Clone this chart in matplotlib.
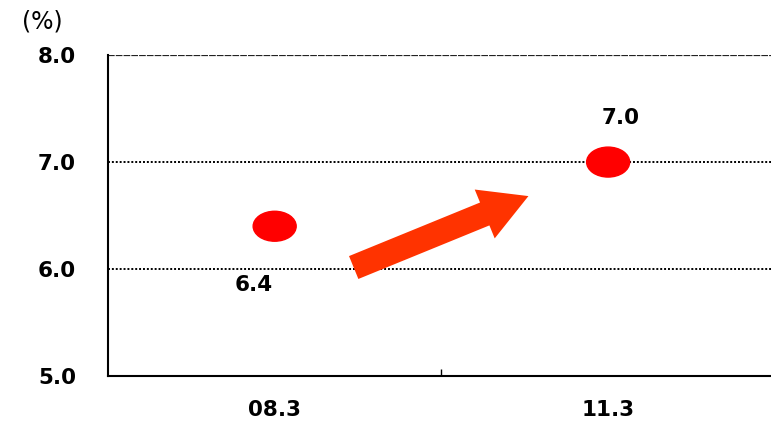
import matplotlib.pyplot as plt
from matplotlib.patches import Ellipse, FancyArrowPatch

# 기간별 수치 (%)
periods = ["08.3", "11.3"]
values = [6.4, 7.0]
y_ticks = [5.0, 6.0, 7.0, 8.0]

plt.rcParams["font.family"] = ["DejaVu Sans"]
FS = 15.5

fig = plt.figure(figsize=(7.71, 4.21), dpi=100)
ax = fig.add_axes([0.140, 0.107, 0.865, 0.762])

ax.set_xlim(0, len(periods))
ax.set_ylim(y_ticks[0], y_ticks[-1])

# 점선 격자
for y in y_ticks[1:-1]:
    ax.axhline(y, color="black", lw=1.4, linestyle=(0, (1, 1)), zorder=1)
ax.axhline(y_ticks[-1], color="#222222", lw=1.6, linestyle=(0, (3, 0.5)), zorder=1)

for s in ["top", "right"]:
    ax.spines[s].set_visible(False)
for s in ["left", "bottom"]:
    ax.spines[s].set_linewidth(1.5)

ax.set_yticks(y_ticks, [f"{v:.1f}" for v in y_ticks], fontsize=FS, fontweight="bold")
ax.tick_params(axis="y", length=0, pad=23)

# 구간 경계 눈금 + 가운데 라벨
centers = [i + 0.5 for i in range(len(periods))]
ax.set_xticks(list(range(1, len(periods))))
ax.set_xticklabels([])
ax.tick_params(axis="x", which="major", direction="in", length=5, width=1)
ax.set_xticks(centers, periods, minor=True, fontsize=FS, fontweight="bold")
ax.tick_params(axis="x", which="minor", length=0, pad=17)

# 타원형 점
for x, v in zip(centers, values):
    ax.add_patch(Ellipse((x, v), width=0.129, height=0.28, color="#ff0000", zorder=3))

offsets = [(-15, -42), (9, 32)]
for x, v, off in zip(centers, values, offsets):
    ax.annotate(f"{v:.1f}", (x, v), xytext=off, textcoords="offset points",
                ha="center", va="center", fontsize=FS, fontweight="bold")

# 상승 화살표
arrow = FancyArrowPatch((0.737, 6.014), (1.261, 6.682),
                        arrowstyle="simple,head_length=34,head_width=38,tail_width=17.8",
                        mutation_scale=1, shrinkA=0, shrinkB=0,
                        color="#ff3300", lw=0, zorder=4)
ax.add_patch(arrow)

fig.text(42 / 771, 1 - 22 / 421, "(%)", ha="center", va="center", fontsize=17)

fig.savefig("out.png", dpi=100)
